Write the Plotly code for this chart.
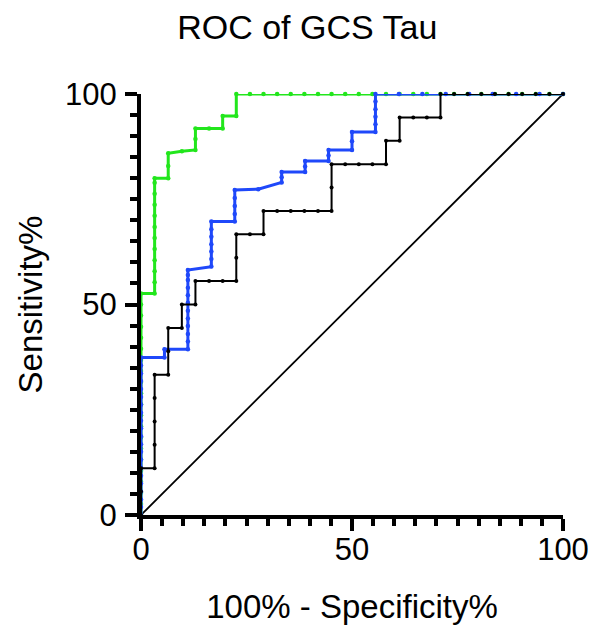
import plotly.graph_objects as go

# ---- data (100% - Specificity%, Sensitivity%) ----
green_fpr = [0, 0, 0, 0, 0, 0, 0, 0, 0, 0, 0, 0, 0, 0, 0, 0, 0, 0, 0, 0, 0,
             3.23, 3.23, 3.23, 3.23, 3.23, 3.23, 3.23, 3.23, 3.23, 3.23, 3.23, 3.23,
             6.45, 6.45, 6.45, 9.68, 12.90, 12.90, 12.90, 16.13, 19.35, 19.35, 22.58, 22.58,
             25.81, 29.03, 32.26, 35.48, 38.71, 41.94, 45.16, 48.39, 51.61, 54.84, 58.06, 61.29,
             64.52, 67.74, 70.97, 74.19, 77.42, 80.65, 83.87, 87.10, 90.32, 93.55, 96.77, 100]
green_tpr = [0, 2.6, 5.3, 7.9, 10.5, 13.2, 15.8, 18.4, 21.1, 23.7, 26.3, 28.9, 31.6, 34.2, 36.8, 39.5, 42.1, 44.7, 47.4, 50.0, 52.6,
             52.6, 55.3, 57.9, 60.5, 63.2, 65.8, 68.4, 71.1, 73.7, 76.3, 78.9, 80.0,
             80.0, 82.9, 85.9, 86.4, 86.7, 89.3, 91.8, 91.8, 91.8, 94.8, 94.8, 100,
             100, 100, 100, 100, 100, 100, 100, 100, 100, 100, 100, 100,
             100, 100, 100, 100, 100, 100, 100, 100, 100, 100, 100, 100]

blue_fpr = [0, 0, 0, 0, 0, 0, 0, 0, 0, 0, 0, 0, 0, 0, 0, 0, 0, 0, 0, 0, 0,
            5.56, 5.56,
            11.11, 11.11, 11.11, 11.11, 11.11, 11.11, 11.11, 11.11, 11.11, 11.11, 11.11, 11.11,
            16.67, 16.67, 16.67, 16.67, 16.67, 16.67, 16.67,
            22.22, 22.22, 22.22, 22.22, 22.22,
            27.78,
            33.33, 33.33, 33.33,
            38.89, 38.89, 38.89,
            44.44, 44.44, 44.44,
            50.00, 50.00, 50.00,
            55.56, 55.56, 55.56, 55.56, 55.56, 55.56,
            61.11, 66.67, 72.22, 77.78, 83.33, 88.89, 94.44, 100]
blue_tpr = [0, 1.9, 3.7, 5.6, 7.5, 9.3, 11.2, 13.1, 15.0, 16.8, 18.7, 20.6, 22.4, 24.3, 26.2, 28.0, 29.9, 31.8, 33.6, 35.5, 37.4,
            37.4, 39.4,
            39.4, 41.2, 43.0, 44.9, 46.7, 48.5, 50.4, 52.2, 54.0, 55.8, 57.0, 58.2,
            59.0, 60.8, 62.6, 64.3, 66.1, 67.9, 69.7,
            69.7, 71.5, 73.4, 75.3, 77.2,
            77.4,
            79.0, 80.2, 81.5,
            81.5, 82.8, 84.1,
            84.1, 85.4, 86.7,
            86.7, 88.8, 91.0,
            91.0, 92.8, 94.6, 96.4, 98.2, 100,
            100, 100, 100, 100, 100, 100, 100, 100]

black_fpr = [0, 0, 0,
             3.23, 3.23, 3.23, 3.23, 3.23,
             6.45, 6.45, 6.45,
             9.68, 9.68,
             12.90, 12.90,
             16.13, 19.35, 22.58, 22.58, 22.58,
             25.81, 29.03, 29.03,
             32.26, 35.48, 38.71, 41.94, 45.16, 45.16, 45.16,
             48.39, 51.61, 54.84, 58.06, 58.06,
             61.29, 61.29,
             64.52, 67.74, 70.97, 70.97,
             74.19, 77.42, 80.65, 83.87, 87.10, 90.32, 93.55, 96.77, 100]
black_tpr = [0, 5.56, 11.11,
             11.11, 16.67, 22.22, 27.78, 33.33,
             33.33, 38.89, 44.44,
             44.44, 50.00,
             50.00, 55.56,
             55.56, 55.56, 55.56, 61.11, 66.67,
             66.67, 66.67, 72.22,
             72.22, 72.22, 72.22, 72.22, 72.22, 77.78, 83.33,
             83.33, 83.33, 83.33, 83.33, 88.89,
             88.89, 94.44,
             94.44, 94.44, 94.44, 100,
             100, 100, 100, 100, 100, 100, 100, 100, 100]

ref_x = [0, 100]
ref_y = [0, 100]

tick_vals = [0, 50, 100]
tick_text = ["0", "50", "100"]

GREEN = "#22E61C"
BLUE = "#1F48FA"
BLACK = "#000000"
FONT = "Liberation Sans, Arial, sans-serif"

fig = go.Figure()
fig.add_trace(go.Scatter(x=ref_x, y=ref_y, mode="lines",
                         line=dict(color=BLACK, width=1.8), cliponaxis=False, hoverinfo="skip"))
fig.add_trace(go.Scatter(x=green_fpr, y=green_tpr, mode="lines+markers",
                         line=dict(color=GREEN, width=3), marker=dict(color=GREEN, size=4.5),
                         cliponaxis=False))
fig.add_trace(go.Scatter(x=blue_fpr, y=blue_tpr, mode="lines+markers",
                         line=dict(color=BLUE, width=3), marker=dict(color=BLUE, size=4.5),
                         cliponaxis=False))
fig.add_trace(go.Scatter(x=black_fpr, y=black_tpr, mode="lines+markers",
                         line=dict(color=BLACK, width=2), marker=dict(color=BLACK, size=4),
                         cliponaxis=False))

axis_common = dict(
    range=[0, 100], tickmode="array", tickvals=tick_vals, ticktext=tick_text,
    showgrid=False, zeroline=False, showline=True, linecolor=BLACK, linewidth=4,
    ticks="outside", ticklen=12, tickwidth=3.5, tickcolor=BLACK,
    tickfont=dict(family=FONT, size=31, color=BLACK), automargin=False,
    minor=dict(dtick=5, tick0=0, ticks="outside", ticklen=7, tickwidth=3.5, tickcolor=BLACK, showgrid=False),
)

fig.update_layout(
    width=599, height=625,
    margin=dict(l=141, r=36, t=94, b=110),
    paper_bgcolor="white", plot_bgcolor="white",
    showlegend=False,
    title=dict(text="ROC of GCS Tau", x=0.513, xanchor="center", y=0.957, yanchor="middle",
               font=dict(family=FONT, size=34, color=BLACK)),
    xaxis=dict(**axis_common, ticklabelstandoff=-8,
               title=dict(text="100% - Specificity%", font=dict(family=FONT, size=33, color=BLACK), standoff=36)),
    yaxis=dict(**axis_common, ticklabelstandoff=2,
               title=dict(text="Sensitivity%", font=dict(family=FONT, size=33, color=BLACK), standoff=14)),
)

fig.write_html("out.html")
